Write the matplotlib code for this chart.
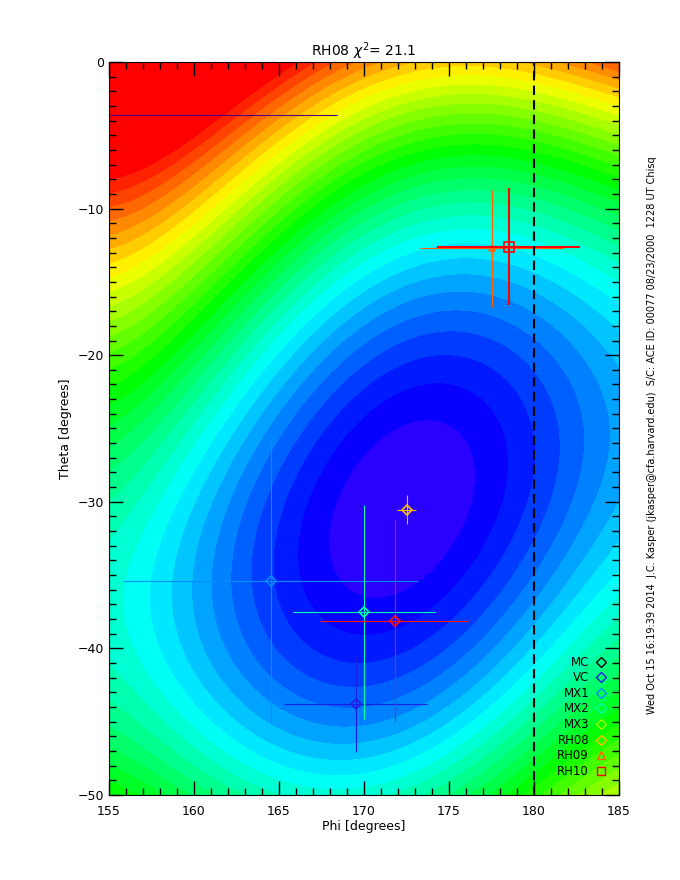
import numpy as np
import matplotlib
matplotlib.use("Agg")
import matplotlib.pyplot as plt
from matplotlib.colors import ListedColormap, BoundaryNorm, hsv_to_rgb
from matplotlib.lines import Line2D
from matplotlib.ticker import MultipleLocator

# measured flow directions (phi, theta) with 1-sigma errors
names = ["MC", "VC", "MX1", "MX2", "MX3", "RH08", "RH09", "RH10"]
phi = [150.0, 169.5, 164.5, 170.0, np.nan, 172.5, 177.5, 178.5]
theta = [-3.6, -43.8, -35.4, -37.5, np.nan, -30.55, -12.7, -12.6]
phi_err = [18.4, 4.2, 8.7, 4.15, np.nan, 0.55, 4.2, 4.2]
theta_err = [1.0, 3.3, 9.6, 7.3, np.nan, 0.98, 4.0, 4.0]
markers = ["D", "D", "D", "D", "D", "D", "^", "s"]
colors = ["#500078", "#1e1ee6", "#008cff", "#00ffaa", "#a0ff00",
          "#ffbe00", "#ff6400", "#ff0000"]

# unlabelled point drawn in red
extra_phi, extra_theta = 171.8, -38.1
extra_phi_err, extra_theta_err = 4.4, 6.9

# chi^2 surface: polynomial in (phi-phi0, theta-theta0), orders 2..4
phi0, theta0 = 172.2, -30.5
chi_coef = [0.512411, -0.264079, 0.248818,
            -0.00249017, 0.00113915, -0.000452984, 7.60184e-05,
            -0.000803562, 0.000309197, -7.93199e-05, 0.000166906, -2.69014e-05]
chisq_title = 21.1

pg = np.linspace(155, 185, 601)
tg = np.linspace(-50, 0, 601)
P, T = np.meshgrid(pg, tg)
U = P - phi0
V = T - theta0
Q = np.zeros_like(P)
k = 0
for n in range(2, 5):
    for j in range(n + 1):
        Q += chi_coef[k] * U**(n - j) * V**j
        k += 1

levels = np.linspace(0, 248, 32)
nb = len(levels) - 1
hues = np.linspace(250, 8, nb) / 360.0
rgb = hsv_to_rgb(np.stack([hues, np.ones(nb), np.ones(nb)], axis=1))
cmap = ListedColormap(rgb)
cmap.set_over("#ff0000")
cmap.set_under(rgb[0])
norm = BoundaryNorm(levels, nb)

fig = plt.figure(figsize=(6.8, 8.8), dpi=100)
ax = fig.add_axes([0.1603, 0.0966, 0.75, 0.833])
ax.contourf(P, T, Q, levels=levels, cmap=cmap, norm=norm, extend="both")

for i in range(len(names)):
    lw = 1.5 if names[i] == "RH10" else 0.8
    ms = 6.5 if names[i] == "RH10" else 5
    ax.errorbar(phi[i], theta[i], xerr=phi_err[i], yerr=theta_err[i],
                fmt="none", ecolor=colors[i], elinewidth=lw, capsize=0)
    ax.plot(phi[i], theta[i], ls="none", marker=markers[i], ms=ms,
            mfc="none", mec=colors[i], mew=1.2)
ax.errorbar(extra_phi, extra_theta, xerr=extra_phi_err, yerr=extra_theta_err,
            fmt="none", ecolor="#ff1400", elinewidth=0.8, capsize=0)
ax.plot(extra_phi, extra_theta, ls="none", marker="D", ms=5,
        mfc="none", mec="#ff1400", mew=1.2)

ax.axvline(180, color="black", lw=1.5, ls=(0, (4.5, 2.5)))

ax.set_xlim(155, 185)
ax.set_ylim(-50, 0)
ax.xaxis.set_major_locator(MultipleLocator(5))
ax.xaxis.set_minor_locator(MultipleLocator(1))
ax.yaxis.set_major_locator(MultipleLocator(10))
ax.yaxis.set_minor_locator(MultipleLocator(1))
ax.tick_params(which="both", direction="in", top=True, right=True,
               width=1, labelsize=9)
ax.tick_params(which="major", length=10)
ax.tick_params(which="minor", length=5)
ax.tick_params(axis="x", pad=7)
ax.set_xlabel("Phi [degrees]", fontsize=9, labelpad=2)
ax.set_ylabel("Theta [degrees]", fontsize=9)
ax.set_title(r"RH08 $\chi^2$= %.1f" % chisq_title, fontsize=10, pad=4)

handles = []
legend_colors = ["black"] + colors[1:]
for i in range(len(names)):
    handles.append(Line2D([], [], ls="none", marker=markers[i], ms=5.5,
                          mfc="none", mec=legend_colors[i], mew=1,
                          label=names[i]))
leg = ax.legend(handles=handles, loc="lower right",
                bbox_to_anchor=(0.984, 0.0177), borderaxespad=0,
                markerfirst=False, fontsize=8.5, frameon=True, fancybox=False,
                framealpha=0, edgecolor="black", handlelength=1,
                handletextpad=0.5, labelspacing=0.22, borderpad=0.35)
leg.get_frame().set_linewidth(1)
for t in leg.get_texts():
    t.set_ha("right")

fig.text(0.959, 0.505,
         "Wed Oct 15 16:19:39 2014  J.C. Kasper (jkasper@cfa.harvard.edu)  "
         "S/C: ACE ID: 00077 08/23/2000  1228 UT Chisq",
         rotation=90, ha="center", va="center", fontsize=7)

fig.savefig("out.png", dpi=100)
